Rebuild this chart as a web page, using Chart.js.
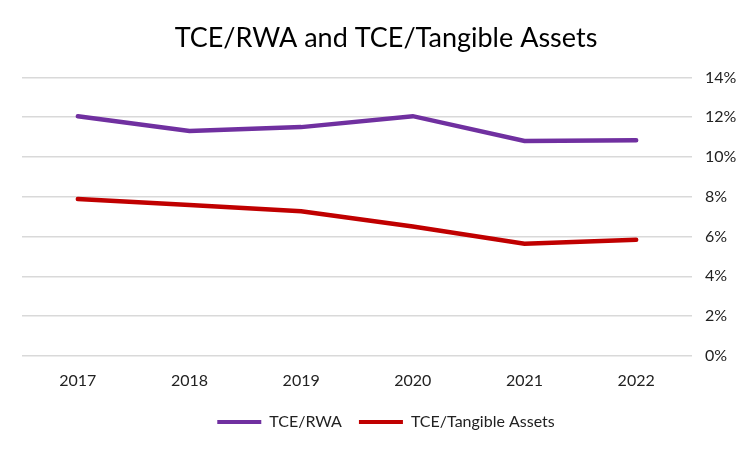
<!DOCTYPE html>
<html><head><meta charset="utf-8">
<script src="https://cdn.jsdelivr.net/npm/chart.js@4/dist/chart.umd.min.js"></script>
<style>html,body{margin:0;padding:0;background:#fff}#wrap{width:750px;height:450px}</style>
</head><body><div id="wrap"><canvas id="c" width="750" height="450"></canvas></div>
<script>
const categories = ['2017','2018','2019','2020','2021','2022'];
const tceRwa = [12.05, 11.3, 11.5, 12.05, 10.8, 10.84];
const tceTangible = [7.88, 7.58, 7.27, 6.5, 5.63, 5.83];
const seriesNames = ['TCE/RWA','TCE/Tangible Assets'];
const FONT = "Lato, 'Open Sans', sans-serif";
new Chart(document.getElementById('c'), {
  type: 'line',
  data: {
    labels: categories,
    datasets: [
      {label: seriesNames[0], data: tceRwa, borderColor: '#7030A0', backgroundColor: '#7030A0', borderWidth: 4.5, pointRadius: 0, tension: 0, borderCapStyle: 'round'},
      {label: seriesNames[1], data: tceTangible, borderColor: '#C00000', backgroundColor: '#C00000', borderWidth: 4.5, pointRadius: 0, tension: 0, borderCapStyle: 'round'}
    ]
  },
  options: {
    responsive: false, animation: false,
    layout: {padding: {left: 22, right: 0, top: 10, bottom: 10}},
    plugins: {
      title: {display: true, text: 'TCE/RWA and TCE/Tangible Assets', color: '#000', font: {family: FONT, size: 27, weight: 'normal'}, padding: {top: 12, bottom: 23}},
      legend: {position: 'bottom', labels: {color: '#222', font: {family: FONT, size: 16}, boxWidth: 44, boxHeight: 4, padding: 17, generateLabels: (ch) => ch.data.datasets.map((d,i)=>({text: d.label, fillStyle: d.borderColor, strokeStyle: d.borderColor, lineWidth: 0, datasetIndex: i, fontColor: '#222'}))}},
      tooltip: {enabled: false}
    },
    scales: {
      x: {offset: true, grid: {display: false, offset: true}, border: {display: false}, ticks: {color: '#222', font: {family: FONT, size: 16}, padding: 7}},
      y: {position: 'right', min: 0, max: 14, grid: {color: '#d9d9d9', lineWidth: 1.5, drawTicks: false}, border: {display: false},
          afterFit: s => { s.width = 58; },
          ticks: {stepSize: 2, color: '#222', font: {family: FONT, size: 16}, padding: 13, callback: v => v + '%'}}
    }
  }
});
</script></body></html>
